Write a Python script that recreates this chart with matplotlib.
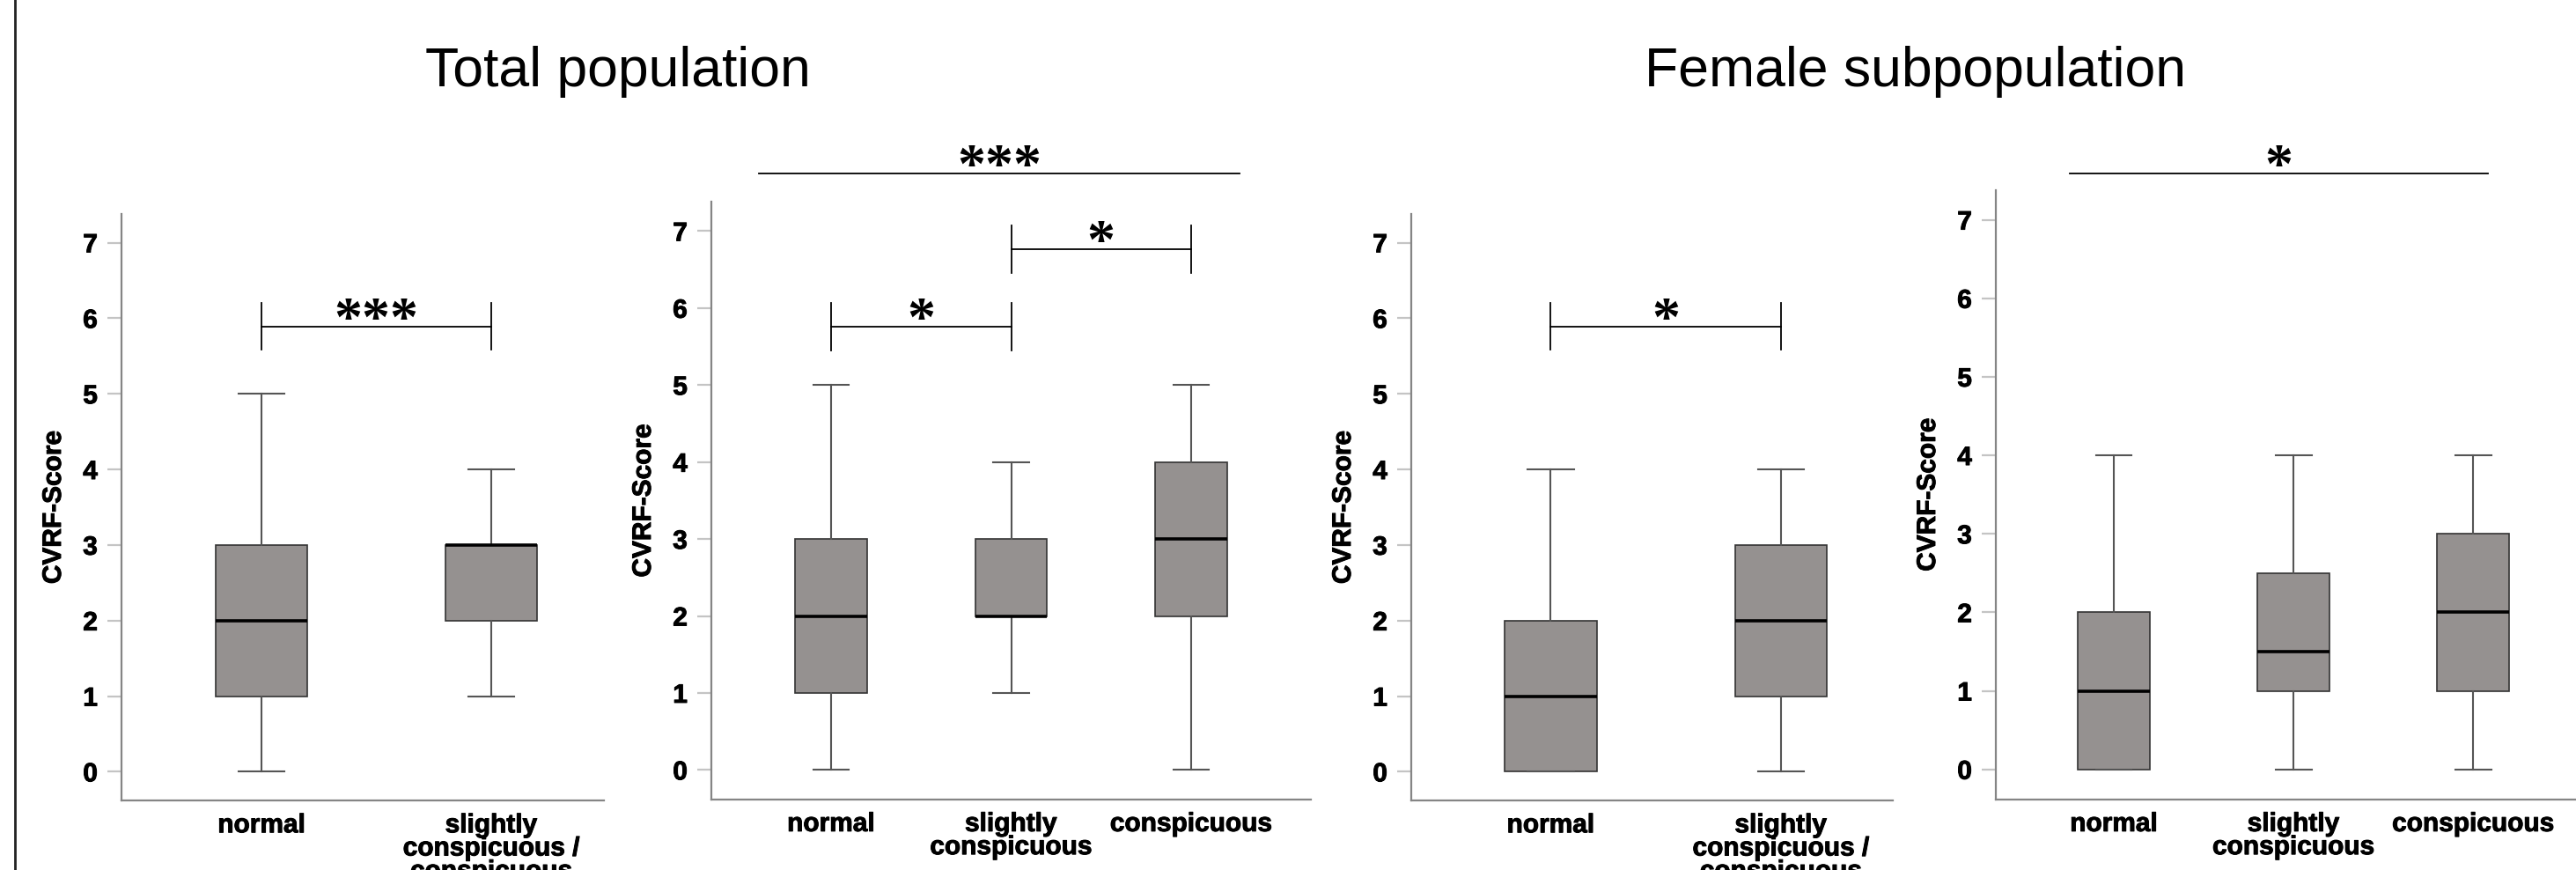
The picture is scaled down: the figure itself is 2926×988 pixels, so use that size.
import matplotlib
matplotlib.use("Agg")
import matplotlib.pyplot as plt
from matplotlib import transforms
from matplotlib import patheffects
from matplotlib.lines import Line2D

plt.rcParams['font.family'] = ['Liberation Sans', 'DejaVu Sans']

# === Data (five-number summaries: whisker low, Q1, median, Q3, whisker high) ===
cats_two = ["normal", "slightly\nconspicuous /\nconspicuous"]
cats_three = ["normal", "slightly\nconspicuous", "conspicuous"]

total_normal = [0, 1, 2, 3, 5]
total_slight_consp = [1, 2, 3, 3, 4]

total3_normal = [0, 1, 2, 3, 5]
total3_slight = [1, 2, 2, 3, 4]
total3_consp = [0, 2, 3, 4, 5]

female_normal = [0, 0, 1, 2, 4]
female_slight_consp = [0, 1, 2, 3, 4]

female3_normal = [0, 0, 1, 2, 4]
female3_slight = [0, 1, 1.5, 2.5, 4]
female3_consp = [0, 1, 2, 3, 4]

yticks = [0, 1, 2, 3, 4, 5, 6, 7]

# significance brackets: (x1, x2, y, label)
sig_total_two = [(1, 2, 5.89, "***")]
sig_total_three = [(1, 2, 5.76, "*"), (2, 3, 6.76, "*")]
top_total_three = [(0.6, 3.27, 7.75, "***")]
sig_female_two = [(1, 2, 5.89, "*")]
top_female_three = [(0.755, 3.08, 7.59, "*")]

W, H = 2926, 988
fig = plt.figure(figsize=(W / 100, H / 100), dpi=100)

BOX_FACE = '#959190'
BOX_EDGE = '#333333'
WHISK = '#555555'
SPINE = '#858585'
TICK = '#c4c4c4'
FS = 21.5
heavy = [patheffects.withStroke(linewidth=0.7, foreground='black')]


def make_axes(left, top, right, bottom, xlim):
    ax = fig.add_axes([left / W, 1 - bottom / H, (right - left) / W, (bottom - top) / H])
    ax.set_xlim(*xlim)
    ax.set_ylim(-0.385, 7.38)
    return ax


def draw_panel(ax, groups, cats):
    stats = []
    for g in groups:
        stats.append(dict(whislo=g[0], q1=g[1], med=g[2], q3=g[3], whishi=g[4], fliers=[]))
    pos = list(range(1, len(groups) + 1))
    ax.bxp(stats, positions=pos, widths=0.4, patch_artist=True, showfliers=False,
           boxprops=dict(facecolor=BOX_FACE, edgecolor=BOX_EDGE, linewidth=1.2),
           medianprops=dict(color='black', linewidth=2.6),
           whiskerprops=dict(color=WHISK, linewidth=1.5),
           capprops=dict(color=WHISK, linewidth=1.5))
    ax.set_xticks(pos)
    ax.set_xticklabels(cats, fontsize=FS, fontweight='bold', linespacing=0.92)
    ax.set_yticks(yticks)
    ax.set_yticklabels([str(t) for t in yticks], fontsize=FS, fontweight='bold')
    for lab in ax.get_xticklabels() + ax.get_yticklabels():
        lab.set_path_effects(heavy)
    ax.tick_params(axis='x', length=0, pad=10)
    ax.tick_params(axis='y', length=11.5, width=1.6, color=TICK, pad=8)
    for s in ['top', 'right']:
        ax.spines[s].set_visible(False)
    for s in ['left', 'bottom']:
        ax.spines[s].set_color(SPINE)
        ax.spines[s].set_linewidth(1.6)
    ax.set_ylabel('CVRF-Score', fontsize=FS, fontweight='bold', path_effects=heavy)
    width_px = ax.get_position().width * W
    ax.yaxis.set_label_coords(-63 / width_px, 0.5)


def star_text(ax, x, y, label):
    tr = transforms.offset_copy(ax.transData, fig=fig, x=0, y=-10, units='dots')
    ax.text(x, y, label, transform=tr, ha='center', va='baseline', fontsize=46,
            family='Liberation Serif', fontweight='bold', clip_on=False)


def brackets(ax, items, tick=0.31):
    for x1, x2, y, label in items:
        ax.plot([x1, x2], [y, y], color='black', lw=1.3, clip_on=False)
        ax.plot([x1, x1], [y - tick, y + tick], color='black', lw=1.3, clip_on=False)
        ax.plot([x2, x2], [y - tick, y + tick], color='black', lw=1.3, clip_on=False)
        star_text(ax, (x1 + x2) / 2, y, label)


def top_lines(ax, items):
    for x1, x2, y, label in items:
        ax.plot([x1, x2], [y, y], color='black', lw=1.3, clip_on=False)
        star_text(ax, (x1 + x2) / 2, y, label)


ax1 = make_axes(138, 242.9, 686, 909.4, (0.39, 2.49))
draw_panel(ax1, [total_normal, total_slight_consp], cats_two)
brackets(ax1, sig_total_two)

ax2 = make_axes(808, 229.2, 1489, 908, (0.335, 3.665))
draw_panel(ax2, [total3_normal, total3_slight, total3_consp], cats_three)
brackets(ax2, sig_total_three)
top_lines(ax2, top_total_three)

ax3 = make_axes(1603, 242.9, 2150, 909.4, (0.394, 2.486))
draw_panel(ax3, [female_normal, female_slight_consp], cats_two)
brackets(ax3, sig_female_two)

ax4 = make_axes(2267, 215.7, 2945, 908, (0.343, 3.665))
draw_panel(ax4, [female3_normal, female3_slight, female3_consp], cats_three)
top_lines(ax4, top_female_three)

fig.text(702 / W, 1 - 98 / H, 'Total population', ha='center', va='baseline', fontsize=45)
fig.text(2176 / W, 1 - 98 / H, 'Female subpopulation', ha='center', va='baseline', fontsize=45)

fig.add_artist(Line2D([17 / W, 17 / W], [0, 1], transform=fig.transFigure, color='#222222', lw=2.0))

fig.savefig('out.png', dpi=100)
